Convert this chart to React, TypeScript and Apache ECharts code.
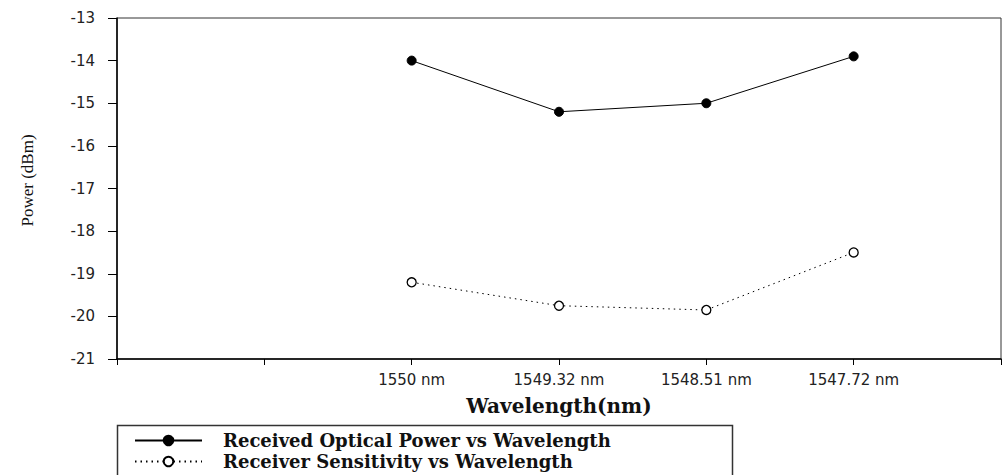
import React, { useEffect, useRef } from "react";
import * as echarts from "echarts";

const wavelengths = ["1550 nm", "1549.32 nm", "1548.51 nm", "1547.72 nm"];
const receivedPower = [-14.0, -15.2, -15.0, -13.9];
const sensitivity = [-19.2, -19.75, -19.85, -18.5];
const seriesNames = [
  "Received Optical Power vs Wavelength",
  "Receiver Sensitivity vs Wavelength",
];
const yMin = -21;
const yMax = -13;

// Two empty slots before the data, one after (as in the original axis)
const xCategories = ["", "", ...wavelengths, ""];
const pad = (arr: number[]) => [null, null, ...arr, null];

export default function App() {
  const ref = useRef<HTMLDivElement>(null);
  useEffect(() => {
    if (!ref.current) return;
    const chart = echarts.init(ref.current, undefined, { renderer: "svg" });
    chart.setOption({
      animation: false,
      backgroundColor: "#ffffff",
      grid: {
        left: 117,
        top: 18,
        width: 888,
        height: 341,
        show: true,
        borderColor: "#333",
        borderWidth: 1,
        containLabel: false,
      },
      xAxis: {
        type: "category",
        data: xCategories,
        boundaryGap: false,
        axisLine: { show: true, lineStyle: { color: "#000", width: 1.5 } },
        axisTick: { show: true, interval: 0, length: 6, inside: false, lineStyle: { color: "#000" } },
        axisLabel: {
          interval: 0,
          margin: 13,
          color: "#222",
          fontFamily: "DejaVu Sans",
          fontSize: 15,
        },
        splitLine: { show: false },
        name: "Wavelength(nm)",
        nameLocation: "middle",
        nameGap: 37,
        nameTextStyle: {
          fontFamily: "DejaVu Serif",
          fontWeight: "bold",
          fontSize: 20,
          color: "#111",
        },
      },
      yAxis: {
        type: "value",
        min: yMin,
        max: yMax,
        interval: 1,
        axisLine: { show: true, lineStyle: { color: "#000", width: 1.5 } },
        axisTick: { show: true, length: 9, lineStyle: { color: "#000" } },
        axisLabel: {
          margin: 22,
          color: "#222",
          fontFamily: "DejaVu Sans",
          fontSize: 15,
        },
        splitLine: { show: false },
        name: "Power (dBm)",
        nameLocation: "middle",
        nameGap: 81,
        nameRotate: 90,
        nameTextStyle: {
          fontFamily: "Liberation Serif",
          fontSize: 17,
          color: "#111",
          padding: [0, 0, 0, 16],
        },
      },
      legend: {
        type: "plain",
        orient: "vertical",
        left: 134,
        top: 430,
        height: 60,
        itemWidth: 67,
        itemHeight: 12,
        itemGap: 0,
        padding: 0,
        textStyle: {
          fontFamily: "DejaVu Serif",
          fontWeight: "bold",
          fontSize: 18,
          lineHeight: 21,
          color: "#111",
          padding: [0, 0, 0, 16],
        },
        data: seriesNames,
      },
      graphic: [
        {
          type: "rect",
          left: 115,
          top: 423,
          shape: { width: 615, height: 70 },
          style: { fill: "none", stroke: "#333", lineWidth: 1.5 },
          silent: true,
          z: -1,
        },
      ],
      series: [
        {
          name: seriesNames[0],
          type: "line",
          data: pad(receivedPower),
          symbol: "circle",
          symbolSize: 9,
          showSymbol: true,
          connectNulls: false,
          lineStyle: { color: "#000", width: 1 },
          itemStyle: { color: "#000", borderColor: "#000", borderWidth: 1 },
        },
        {
          name: seriesNames[1],
          type: "line",
          data: pad(sensitivity),
          symbol: "circle",
          symbolSize: 9,
          showSymbol: true,
          connectNulls: false,
          lineStyle: { color: "#000", width: 1, type: [1.5, 4] },
          itemStyle: { color: "#fff", borderColor: "#000", borderWidth: 1.3 },
        },
      ],
    });
    return () => chart.dispose();
  }, []);
  return (
    <div
      ref={ref}
      style={{ position: "absolute", left: 0, top: 0, width: 1004, height: 475 }}
    />
  );
}
